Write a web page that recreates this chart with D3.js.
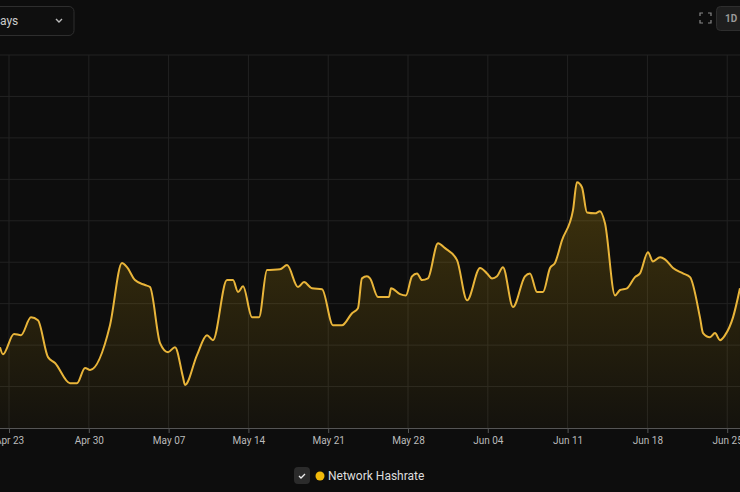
<!DOCTYPE html>
<html><head><meta charset="utf-8">
<script src="https://cdn.jsdelivr.net/npm/d3@7/dist/d3.min.js"></script>
<style>html,body{margin:0;padding:0;background:#0d0d0d;overflow:hidden}</style>
</head><body><svg id="c" width="740" height="492"></svg>
<script>
const tickLabels=["Apr 23","Apr 30","May 07","May 14","May 21","May 28","Jun 04","Jun 11","Jun 18","Jun 25"];
const days=[-0.79,-0.53,0.44,1.05,1.93,2.54,3.42,4.04,5.35,5.96,6.67,7.11,8.86,9.91,10.35,11.05,11.93,12.37,13.25,13.95,14.56,15.26,15.44,16.49,17.37,17.89,19.12,19.65,20.09,20.53,21.32,21.93,22.63,23.77,24.39,25.35,25.88,26.58,27.46,28.42,29.21,30.09,30.61,30.96,31.40,31.67,32.37,32.98,33.33,33.51,34.30,34.82,35.35,35.79,36.23,36.75,37.63,38.25,39.30,40.18,41.32,41.93,42.37,42.81,43.33,44.21,45.26,45.70,46.32,46.84,47.46,47.89,48.51,49.47,49.82,50.26,50.70,51.40,51.84,52.28,53.16,53.60,54.21,54.91,55.35,56.05,56.49,57.11,57.54,58.25,59.12,59.74,60.61,60.88,61.49,61.93,62.37,62.81,63.51,64.12];
const hashrate=[1.95,1.78,2.27,2.24,2.67,2.60,1.71,1.57,1.08,1.08,1.45,1.40,2.48,3.98,3.88,3.57,3.45,3.40,2.05,1.83,1.95,1.23,1.04,1.76,2.24,2.12,3.57,3.57,3.28,3.42,2.67,2.67,3.81,3.83,3.93,3.40,3.52,3.37,3.35,2.48,2.48,2.77,2.89,3.61,3.66,3.61,3.16,3.16,3.16,3.37,3.23,3.20,3.66,3.73,3.57,3.61,4.46,4.34,4.05,3.08,3.86,3.73,3.61,3.66,3.88,2.92,3.66,3.73,3.28,3.28,3.86,3.98,4.53,5.25,5.93,5.81,5.20,5.18,5.23,4.94,3.20,3.33,3.37,3.64,3.73,4.24,4.02,4.12,4.07,3.86,3.73,3.64,2.67,2.29,2.19,2.29,2.12,2.24,2.67,3.37];
const data=days.map((d,i)=>({d,v:hashrate[i]}));
const svg=d3.select("#c");
const x=d3.scaleLinear().domain([0,63]).range([9,727.2]);
const y=d3.scaleLinear().domain([0,9]).range([428,55]);
const defs=svg.append("defs");
const g=defs.append("linearGradient").attr("id","gr").attr("x1",0).attr("y1",0).attr("x2",0).attr("y2",1);
g.append("stop").attr("offset","0").attr("stop-color","#f0b90b").attr("stop-opacity",0.22);
g.append("stop").attr("offset","1").attr("stop-color","#f0b90b").attr("stop-opacity",0.03);
defs.append("clipPath").attr("id","cp").append("rect").attr("x",0).attr("y",55).attr("width",740).attr("height",373);
// grid
svg.append("g").selectAll("line").data(d3.range(0,9)).join("line")
 .attr("x1",0).attr("x2",740).attr("y1",d=>y(d+1)).attr("y2",d=>y(d+1)).attr("stroke","#222").attr("stroke-width",1);
svg.append("g").selectAll("line").data(tickLabels).join("line")
 .attr("x1",(d,i)=>x(i*7)).attr("x2",(d,i)=>x(i*7)).attr("y1",55).attr("y2",428).attr("stroke","#222");
const curve=d3.curveMonotoneX;
svg.append("path").datum(data).attr("clip-path","url(#cp)").attr("fill","url(#gr)")
 .attr("d",d3.area().x(d=>x(d.d)).y0(428).y1(d=>y(d.v)).curve(curve));
svg.append("path").datum(data).attr("clip-path","url(#cp)").attr("fill","none").attr("stroke","#e9b53a").attr("stroke-width",2)
 .attr("d",d3.line().x(d=>x(d.d)).y(d=>y(d.v)).curve(curve));
// axis
const ax=svg.append("g").attr("transform","translate(0,428)")
 .call(d3.axisBottom(x).tickValues(d3.range(0,64,7)).tickFormat((d,i)=>tickLabels[i]).tickSize(5).tickPadding(4));
ax.select(".domain").attr("stroke","#555").attr("d","M0,0.5H740");
ax.selectAll(".tick line").attr("stroke","#555");
ax.selectAll("text").attr("fill","#bbb").attr("font-family","Roboto, sans-serif").attr("font-size",10);
// top UI
svg.append("rect").attr("x",-20).attr("y",6.5).attr("width",94).attr("height",29).attr("rx",5).attr("fill","#0f0f0f").attr("stroke","#2e2e2e");
svg.append("text").attr("x",0).attr("y",25).text("ays").attr("fill","#ccc").attr("font-family","Roboto, sans-serif").attr("font-size",12);
svg.append("path").attr("d","M56,19l3,3l3,-3").attr("fill","none").attr("stroke","#bbb").attr("stroke-width",1.4);
svg.append("path").attr("d","M700,16v-3h3M708,13h3v3M711,20v3h-3M703,23h-3v-3").attr("fill","none").attr("stroke","#888").attr("stroke-width",1.2);
svg.append("rect").attr("x",716.5).attr("y",6.5).attr("width",40).attr("height",24).attr("rx",4).attr("fill","#1e1e1e").attr("stroke","#2e2e2e");
svg.append("text").attr("x",725).attr("y",22).text("1D").attr("fill","#999").attr("font-family","Roboto, sans-serif").attr("font-size",10).attr("font-weight","bold");
// legend
svg.append("rect").attr("x",294).attr("y",467).attr("width",16).attr("height",17).attr("rx",4).attr("fill","#2b2b2b");
svg.append("path").attr("d","M299,476l2,2l4,-4").attr("fill","none").attr("stroke","#eee").attr("stroke-width",1.3);
svg.append("circle").attr("cx",320).attr("cy",476).attr("r",4.5).attr("fill","#f0b90b");
svg.append("text").attr("x",328).attr("y",480).text("Network Hashrate").attr("fill","#ddd").attr("font-family","Roboto, sans-serif").attr("font-size",12);
</script></body></html>
